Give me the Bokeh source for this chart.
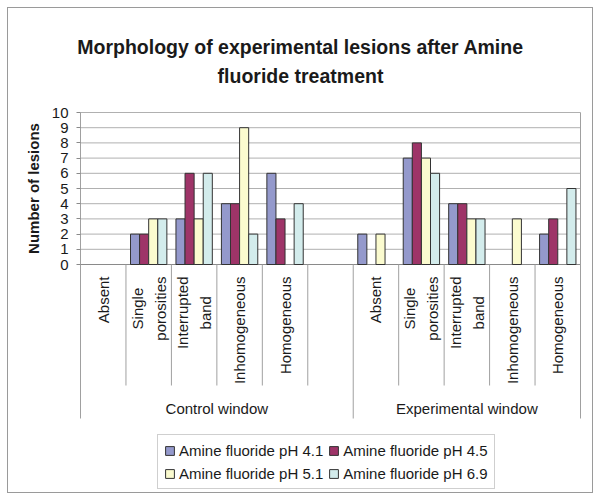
import math
from bokeh.plotting import figure
from bokeh.models import ColumnDataSource, Range1d, FixedTicker, Label, Legend, LegendItem
from bokeh.embed import file_html
from bokeh.resources import INLINE
from bokeh.core.properties import value

# ---------------- data ----------------
title_lines = ["Morphology of experimental lesions after Amine", "fluoride treatment"]
y_axis_title = "Number of lesions"
categories = ["Absent", "Single\nporosities", "Interrupted\nband", "Inhomogeneous", "Homogeneous"]
windows = ["Control window", "Experimental window"]
window_slots = [6, 5]          # control window carries one empty trailing category
y_ticks = [0, 1, 2, 3, 4, 5, 6, 7, 8, 9, 10]

series_names = ["Amine fluoride pH 4.1", "Amine fluoride pH 4.5",
                "Amine fluoride pH 5.1", "Amine fluoride pH 6.9"]
series_colors = ["#9499CC", "#9E3468", "#FBFBCF", "#D3ECEC"]

ph41_control = [0, 2, 3, 4, 6]
ph45_control = [0, 2, 6, 4, 3]
ph51_control = [0, 3, 3, 9, 0]
ph69_control = [0, 3, 6, 2, 4]

ph41_experimental = [2, 7, 4, 0, 2]
ph45_experimental = [0, 8, 4, 0, 3]
ph51_experimental = [2, 7, 3, 3, 0]
ph69_experimental = [0, 6, 3, 0, 5]

series_values = [
    [ph41_control, ph41_experimental],
    [ph45_control, ph45_experimental],
    [ph51_control, ph51_experimental],
    [ph69_control, ph69_experimental],
]

# ---------------- layout constants ----------------
W, H = 584, 484
PLOT_X0, PLOT_X1 = 72, 572        # canvas px of the plot area's left / right edges
N_SLOTS = sum(window_slots)
PX_X = (PLOT_X1 - PLOT_X0) / N_SLOTS
Y0_PX, Y10_PX = 256, 104          # canvas px of y=0 and y=10
PX_Y = (Y0_PX - Y10_PX) / 10.0
Y_TOP = 10 + Y10_PX / PX_Y
Y_BOTTOM = -(H - Y0_PX) / PX_Y
X_START = -PLOT_X0 / PX_X
X_END = N_SLOTS + (W - PLOT_X1) / PX_X

def ypx(canvas_y):
    return (Y0_PX - canvas_y) / PX_Y

def xpx(canvas_x):
    return (canvas_x - PLOT_X0) / PX_X

FONT = "Liberation Sans"
TXT = "#1a1a1a"
LINE = "#a0a0a0"

p = figure(width=W, height=H, output_backend="svg", toolbar_location=None,
           x_range=Range1d(X_START, X_END), y_range=Range1d(Y_BOTTOM, Y_TOP),
           x_axis_type=None, min_border_left=0, min_border_right=0,
           min_border_top=0, min_border_bottom=0)
p.margin = (8, 0, 0, 8)
p.outline_line_color = None
p.background_fill_color = "white"
p.border_fill_color = "white"
p.styles = {"outline": "1px solid #9a9a9a"}

# y axis drawn at the plot area's left edge
p.yaxis.fixed_location = 0
p.yaxis.ticker = FixedTicker(ticks=y_ticks)
p.yaxis.bounds = (y_ticks[0], y_ticks[-1])
p.yaxis.axis_line_color = None
p.yaxis.major_tick_out = 4
p.yaxis.major_tick_in = 0
p.yaxis.major_tick_line_color = "#8a8a8a"
p.yaxis.minor_tick_line_color = None
p.yaxis.major_label_text_font = FONT
p.yaxis.major_label_text_font_size = "15px"
p.yaxis.major_label_text_color = TXT
p.yaxis.major_label_standoff = 8
p.ygrid.visible = False

# horizontal gridlines over the plot area only
p.segment(x0=[0] * len(y_ticks), y0=y_ticks, x1=[N_SLOTS] * len(y_ticks), y1=y_ticks,
          line_color="#b0b0b0", line_width=1)
p.segment(x0=[0], y0=[y_ticks[0]], x1=[N_SLOTS], y1=[y_ticks[0]],
          line_color="#8a8a8a", line_width=1)

# frame edges and category dividers
slot_start = [0, window_slots[0]]
edges_x = [0, N_SLOTS]
p.segment(x0=edges_x, y0=[10, 10], x1=edges_x, y1=[ypx(410), ypx(410)],
          line_color=LINE, line_width=1)
short_x = [i for i in range(1, N_SLOTS) if i not in slot_start]
p.segment(x0=short_x, y0=[0] * len(short_x), x1=short_x, y1=[ypx(377)] * len(short_x),
          line_color=LINE, line_width=1)
p.segment(x0=[slot_start[1]], y0=[0], x1=[slot_start[1]], y1=[ypx(410)],
          line_color=LINE, line_width=1)

# bars
n_series = len(series_names)
bar_w = 0.8 / n_series
items = []
for k in range(n_series):
    xs, tops = [], []
    for g in range(len(windows)):
        for i, v in enumerate(series_values[k][g]):
            if v > 0:
                xs.append(slot_start[g] + 0.1 + bar_w * (k + 0.5) + i)
                tops.append(v)
    src = ColumnDataSource(dict(x=xs, top=tops))
    r = p.vbar(x="x", top="top", bottom=0, width=bar_w, source=src,
               fill_color=series_colors[k], line_color="#333333", line_width=1)
    items.append(LegendItem(label=series_names[k], renderers=[r]))

# category labels (rotated, top anchored, lines centred)
AW = {'A': 667, 'H': 722, 'I': 278, 'S': 667, 'a': 556, 'b': 556, 'd': 556, 'e': 556,
      'g': 556, 'h': 556, 'i': 222, 'l': 222, 'm': 833, 'n': 556, 'o': 556, 'p': 556,
      'r': 333, 's': 500, 't': 278, 'u': 556, ' ': 278}

def text_px(s, size=15):
    return sum(AW.get(c, 556) for c in s) * size / 1000.0

LABEL_TOP = ypx(268)
LINE_GAP = 23
lx, ly, lt = [], [], []
for g in range(len(windows)):
    for i, cat in enumerate(categories):
        lines = cat.split("\n")
        longest = max(text_px(s) for s in lines)
        yc = LABEL_TOP - (longest / 2) / PX_Y
        n = len(lines)
        for j, s in enumerate(lines):
            lx.append(slot_start[g] + i + 0.5 + (j - (n - 1) / 2) * LINE_GAP / PX_X)
            ly.append(yc)
            lt.append(s)
p.text(x=lx, y=ly, text=lt, angle=math.pi / 2, text_align="center", text_baseline="middle",
       text_font=value(FONT), text_font_size="15px", text_color=TXT)

# window labels
gx = [slot_start[g] + window_slots[g] / 2 for g in range(len(windows))]
p.text(x=gx, y=[ypx(400)] * len(windows), text=windows, text_align="center",
       text_baseline="middle", text_font=value(FONT), text_font_size="15px", text_color=TXT)

# title
for j, line in enumerate(title_lines):
    p.add_layout(Label(x=xpx(W / 2), y=ypx(38.5 + 28.5 * j), text=line, text_align="center",
                       text_baseline="alphabetic", text_font=FONT, text_font_size="19.5px",
                       text_font_style="bold", text_color=TXT))

# y axis title
p.add_layout(Label(x=xpx(25), y=(y_ticks[0] + y_ticks[-1]) / 2, text=y_axis_title,
                   angle=math.pi / 2, text_align="center", text_baseline="middle",
                   text_font=FONT, text_font_size="15px", text_font_style="bold",
                   text_color=TXT))

legend = Legend(items=items, ncols=2, orientation="horizontal", location=(149, 3),
                label_text_font=FONT, label_text_font_size="15px", label_text_color=TXT,
                glyph_width=11, glyph_height=11, label_standoff=4, label_height=18,
                spacing=5, padding=6, margin=0,
                border_line_color="#a0a0a0", border_line_width=1,
                background_fill_color="white", background_fill_alpha=1)
p.add_layout(legend)

open("out.html", "w").write(file_html(p, INLINE))
